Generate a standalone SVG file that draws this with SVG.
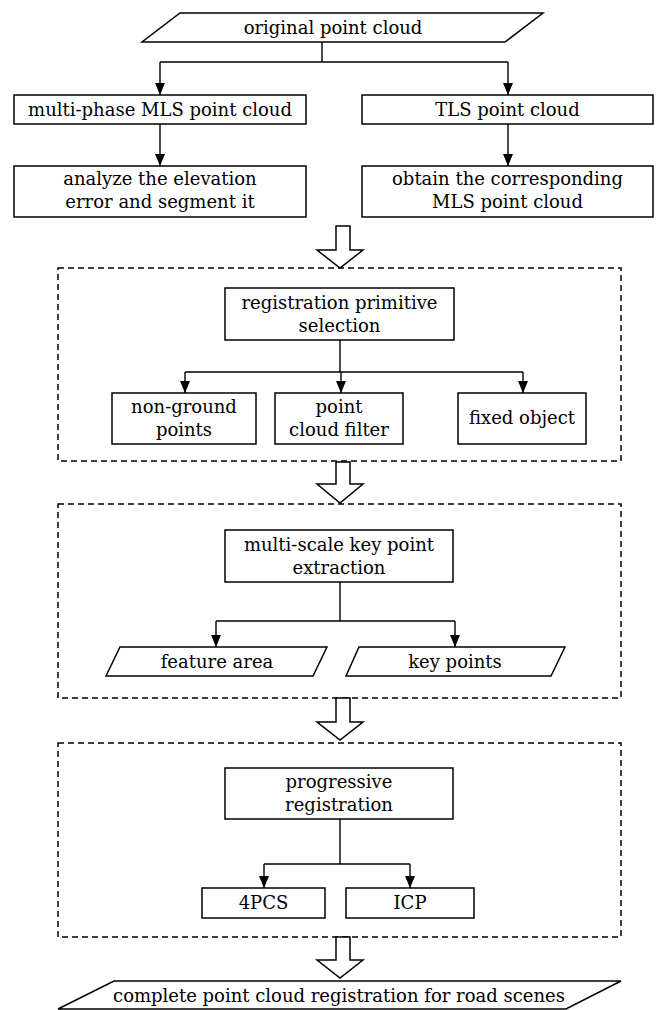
<svg xmlns="http://www.w3.org/2000/svg" width="659" height="1010" viewBox="0 0 659 1010">
<style>
.box{fill:#fff;stroke:#000;stroke-width:1.5}
.dash{fill:none;stroke:#000;stroke-width:1.5;stroke-dasharray:6,4}
.hol{fill:#fff;stroke:#000;stroke-width:1.5;stroke-linejoin:miter}
.ln{fill:none;stroke:#000;stroke-width:1.4}
.arr{fill:none;stroke:#000;stroke-width:1.4;marker-end:url(#ah)}
text{font-family:"DejaVu Serif","Liberation Serif",serif;font-size:18px;fill:#000;text-anchor:middle}
</style>
<defs>
<marker id="ah" viewBox="0 0 12 10" refX="12" refY="5" markerWidth="12" markerHeight="10" markerUnits="userSpaceOnUse" orient="auto">
<path d="M0,0 L12,5 L0,10 z" fill="#000"/>
</marker>
</defs>
<rect width="659" height="1010" fill="#fff"/>
<g id="containers">
<rect class="dash" x="58" y="268" width="563" height="193"/>
<rect class="dash" x="58" y="504" width="563" height="194"/>
<rect class="dash" x="58" y="743" width="563" height="194"/>
</g>
<g id="connectors">
<path class="ln" d="M322,42 V62 M160,62 H508"/>
<path class="arr" d="M160,62 V95"/>
<path class="arr" d="M508,62 V95"/>
<path class="arr" d="M160,124 V166"/>
<path class="arr" d="M508,124 V166"/>
<path class="ln" d="M340,340 V372 M185,372 H523"/>
<path class="arr" d="M185,372 V393"/>
<path class="arr" d="M341,372 V393"/>
<path class="arr" d="M523,372 V393"/>
<path class="ln" d="M340,582 V621 M216,621 H455"/>
<path class="arr" d="M216,621 V647"/>
<path class="arr" d="M455,621 V647"/>
<path class="ln" d="M340,819 V864 M264,864 H410"/>
<path class="arr" d="M264,864 V888"/>
<path class="arr" d="M410,864 V888"/>
<path class="hol" d="M336,226 H350 V250 H363 L340,268 L317,250 H336 Z"/>
<path class="hol" d="M336,462 H350 V484 H363 L340,503 L317,484 H336 Z"/>
<path class="hol" d="M336,698 H350 V722 H363 L340,740 L317,722 H336 Z"/>
<path class="hol" d="M336,937 H350 V960 H363 L340,978 L317,960 H336 Z"/>
</g>
<g id="n-original">
<path class="box" d="M180,13 H543 L505,42 H142 Z"/>
<text x="333" y="34">original point cloud</text>
</g>
<g id="n-mls">
<rect class="box" x="14" y="95" width="292" height="29"/>
<text x="160" y="116">multi-phase MLS point cloud</text>
</g>
<g id="n-tls">
<rect class="box" x="362" y="95" width="291" height="29"/>
<text x="507.5" y="116">TLS point cloud</text>
</g>
<g id="n-analyze">
<rect class="box" x="14" y="166" width="292" height="51"/>
<text x="160" y="185">analyze the elevation</text>
<text x="160" y="208">error and segment it</text>
</g>
<g id="n-obtain">
<rect class="box" x="362" y="166" width="291" height="51"/>
<text x="507.5" y="185">obtain the corresponding</text>
<text x="507.5" y="208">MLS point cloud</text>
</g>
<g id="n-rps">
<rect class="box" x="225" y="288" width="229" height="52"/>
<text x="339.5" y="309">registration primitive</text>
<text x="339.5" y="332">selection</text>
</g>
<g id="n-nonground">
<rect class="box" x="112" y="393" width="144" height="51"/>
<text x="184" y="413">non-ground</text>
<text x="184" y="436">points</text>
</g>
<g id="n-filter">
<rect class="box" x="275" y="393" width="128" height="51"/>
<text x="339" y="413">point</text>
<text x="339" y="436">cloud filter</text>
</g>
<g id="n-fixed">
<rect class="box" x="458" y="393" width="128" height="51"/>
<text x="522" y="424">fixed object</text>
</g>
<g id="n-mskpe">
<rect class="box" x="225" y="530" width="228" height="52"/>
<text x="339" y="551">multi-scale key point</text>
<text x="339" y="574">extraction</text>
</g>
<g id="n-feature">
<path class="box" d="M120,647 H327 L313,676 H106 Z"/>
<text x="217" y="668">feature area</text>
</g>
<g id="n-keypoints">
<path class="box" d="M359,647 H565 L551,676 H346 Z"/>
<text x="455" y="668">key points</text>
</g>
<g id="n-pr">
<rect class="box" x="225" y="768" width="228" height="51"/>
<text x="339" y="788">progressive</text>
<text x="339" y="811">registration</text>
</g>
<g id="n-4pcs">
<rect class="box" x="202" y="888" width="123" height="30"/>
<text x="263.5" y="909">4PCS</text>
</g>
<g id="n-icp">
<rect class="box" x="346" y="888" width="128" height="30"/>
<text x="410" y="909">ICP</text>
</g>
<g id="n-complete">
<path class="box" d="M114,981 H621 L566,1009 H58 Z"/>
<text x="339" y="1002">complete point cloud registration for road scenes</text>
</g>
</svg>
